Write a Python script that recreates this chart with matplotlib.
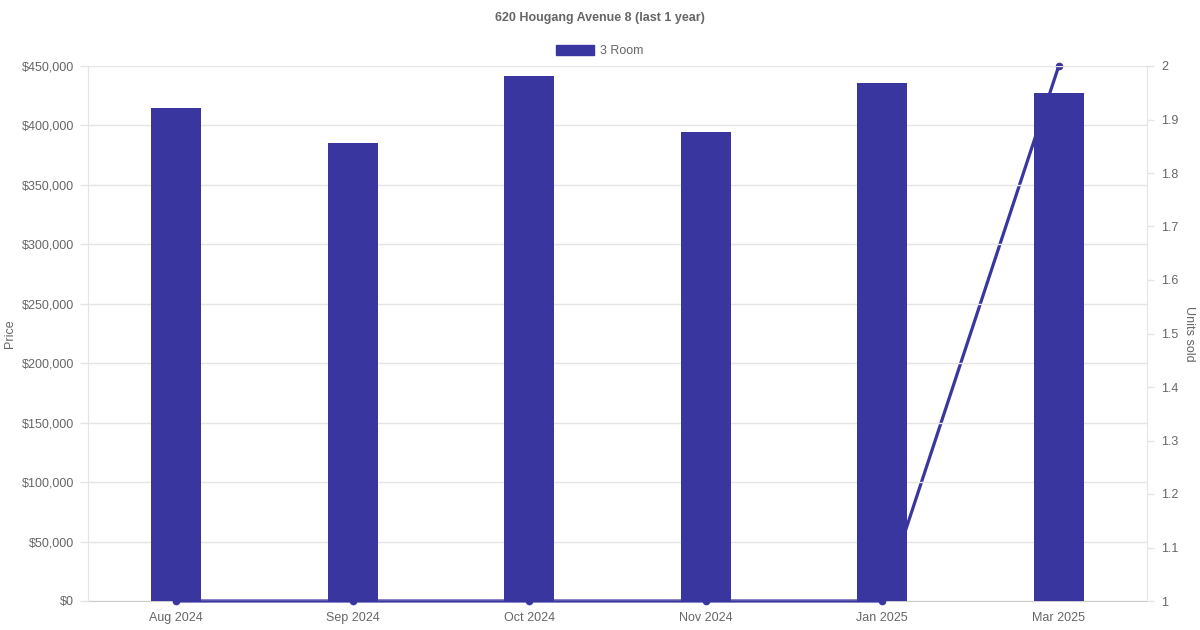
import matplotlib
matplotlib.use("Agg")
import matplotlib.pyplot as plt
from matplotlib.ticker import FuncFormatter, MultipleLocator
from matplotlib.patches import Patch

categories = ["Aug 2024", "Sep 2024", "Oct 2024", "Nov 2024", "Jan 2025", "Mar 2025"]
prices = [414500, 385000, 441800, 394700, 435500, 427000]
units_sold = [1, 1, 1, 1, 1, 2]

bar_color = "#3A36A0"
text_color = "#666666"
grid_color = "#E5E5E5"

plt.rcParams['font.family'] = ['Liberation Sans', 'DejaVu Sans']

fig = plt.figure(figsize=(12, 6.3), dpi=100)
ax = fig.add_axes([88/1200, 29/630, (1147-88)/1200, (601-66)/630])
ax2 = ax.twinx()

x = list(range(len(categories)))

# line on right axis, drawn behind bars
ax2.plot(x, units_sold, color=bar_color, linewidth=2.3, marker='o', markersize=4.5, zorder=3, clip_on=False)
ax2.set_ylim(1, 2)
ax2.yaxis.set_major_locator(MultipleLocator(0.1))
ax2.yaxis.set_major_formatter(FuncFormatter(lambda v, p: f"{v:.1f}".rstrip('0').rstrip('.') if abs(v - round(v)) > 1e-9 else f"{int(round(v))}"))

# put bars axis on top of line axis
ax.set_zorder(ax2.get_zorder() + 1)
ax.patch.set_visible(False)
ax2.patch.set_visible(True)
ax2.patch.set_facecolor('white')

ax.bar(x, prices, width=0.283, color=bar_color, zorder=3)
ax.set_ylim(0, 450000)
ax.set_xlim(-0.5, len(categories) - 0.5)
ax.yaxis.set_major_locator(MultipleLocator(50000))
ax.yaxis.set_major_formatter(FuncFormatter(lambda v, p: f"${int(v):,}"))
ax.set_xticks(x)
ax.set_xticklabels(categories)

ax.grid(axis='y', color=grid_color, linewidth=1, zorder=0)
ax.set_axisbelow(True)

for a in (ax, ax2):
    for s in a.spines.values():
        s.set_visible(False)

ax.spines['left'].set_visible(True)
ax.spines['left'].set_color(grid_color)
ax2.spines['bottom'].set_visible(True)
ax2.spines['bottom'].set_color('#CCCCCC')
ax2.spines['bottom'].set_zorder(1)
ax2.spines['right'].set_visible(True)
ax2.spines['right'].set_color(grid_color)

ax.tick_params(axis='y', colors=text_color, labelsize=9, length=6, width=1, pad=4)
ax.tick_params(axis='y', color=grid_color)
ax.tick_params(axis='x', colors=text_color, labelsize=9, length=0, pad=8)
ax2.tick_params(axis='y', colors=text_color, labelsize=9, length=5, width=1, pad=5)
ax2.tick_params(axis='y', color=grid_color)
ax2.tick_params(axis='x', length=0, labelbottom=False)

ax.set_ylabel("Price", color=text_color, fontsize=9, va='center')
ax.yaxis.set_label_coords((10 - 88) / 1059, 0.5)
ax2.set_ylabel("Units sold", color=text_color, fontsize=9, rotation=270, va='center')
ax2.yaxis.set_label_coords((1189 - 88) / 1059, 0.5)

fig.text(0.5, 1 - 18/630, "620 Hougang Avenue 8 (last 1 year)", ha='center', va='center',
         fontsize=9, fontweight='bold', color=text_color)

handle = Patch(facecolor=bar_color, edgecolor=bar_color)
fig.legend([handle], ["3 Room"], loc='center', bbox_to_anchor=(0.5, 1 - 51/630), frameon=False,
           fontsize=9, labelcolor=text_color, handlelength=3.0, handleheight=0.9, handletextpad=0.5)

fig.savefig("out.png", dpi=100)
